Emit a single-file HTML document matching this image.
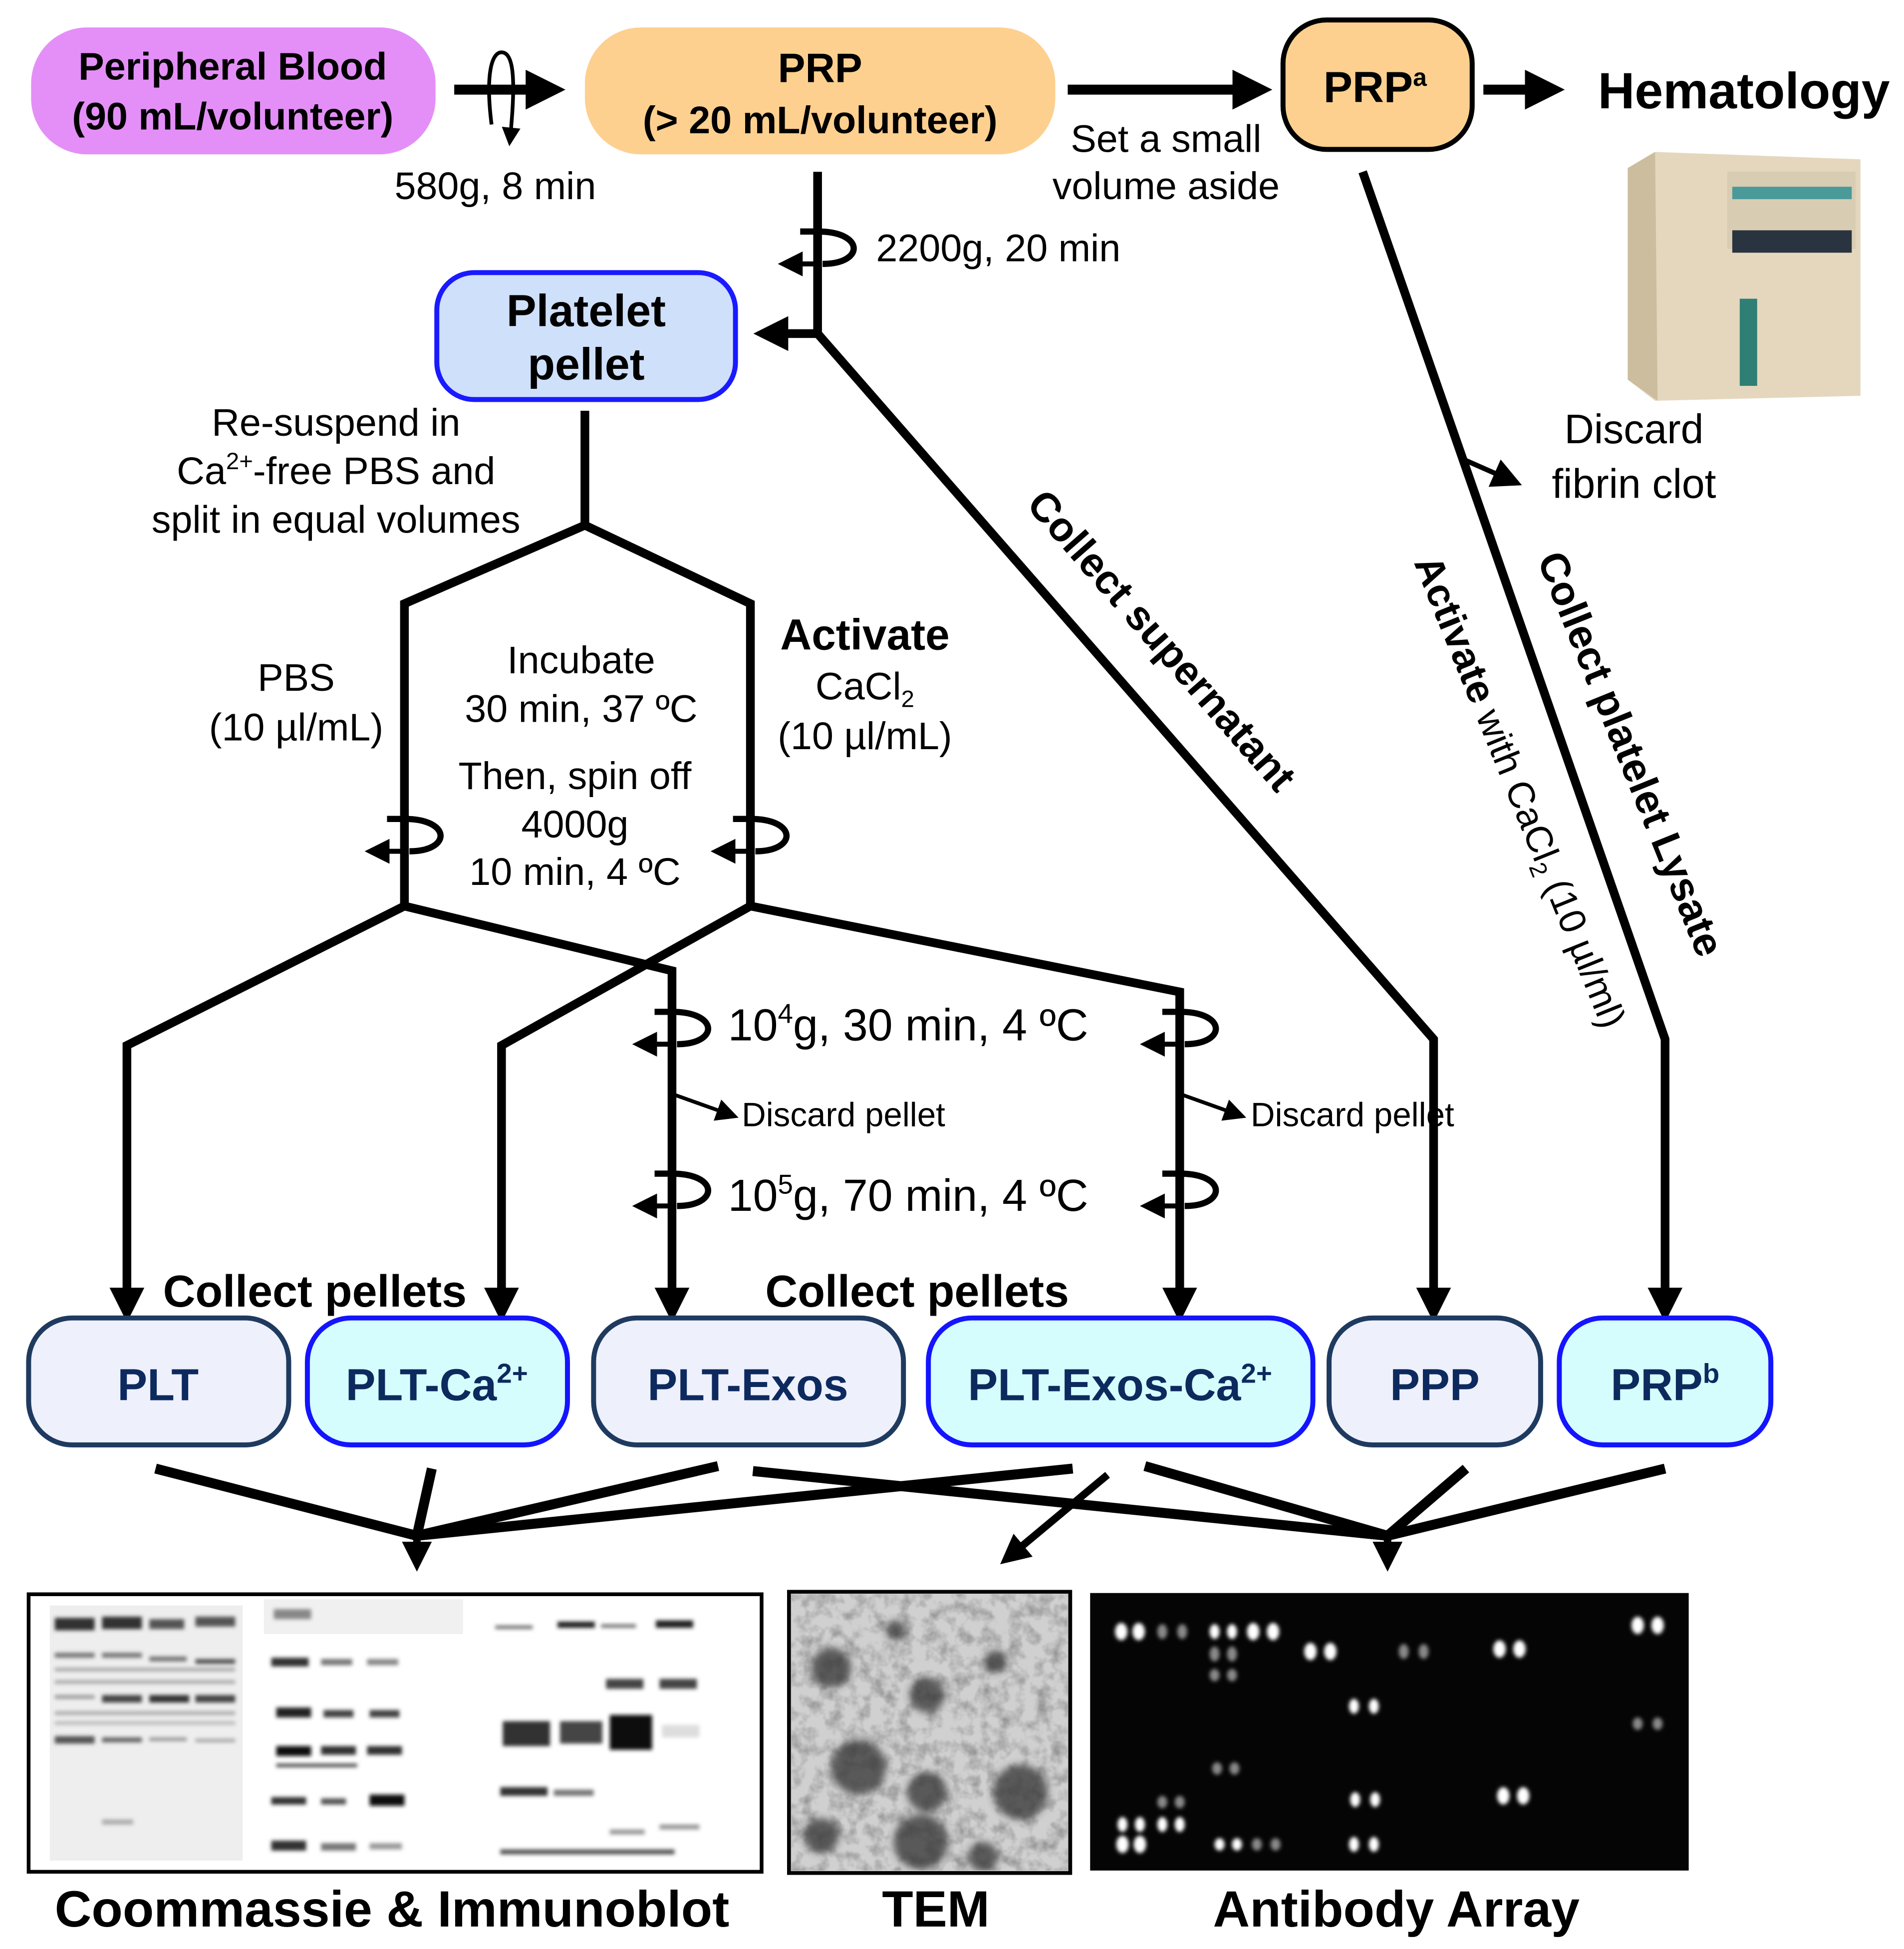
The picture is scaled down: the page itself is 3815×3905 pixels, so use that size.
<!DOCTYPE html>
<html><head><meta charset="utf-8"><style>html,body{margin:0;padding:0;background:#fff}svg{display:block}</style></head>
<body>
<svg width="3815" height="3905" viewBox="0 0 1530 1566" xmlns="http://www.w3.org/2000/svg" font-family="Liberation Sans, Arial, sans-serif">
<defs>
<marker id="ah" markerWidth="4" markerHeight="4" refX="2.2" refY="2" orient="auto" markerUnits="strokeWidth"><path d="M0,0 L4,2 L0,4 z" fill="#000"/></marker>
<marker id="ah2" markerWidth="6" markerHeight="6" refX="3" refY="3" orient="auto" markerUnits="strokeWidth"><path d="M0,0 L6,3 L0,6 z" fill="#000"/></marker>
<marker id="ahs" markerWidth="5" markerHeight="5" refX="2.5" refY="2.5" orient="auto" markerUnits="strokeWidth"><path d="M0,0 L5,2.5 L0,5 z" fill="#000"/></marker>
<filter id="bl"><feGaussianBlur stdDeviation="1.6"/></filter>
<filter id="bl2"><feGaussianBlur stdDeviation="3"/></filter>
<filter id="noise" x="0" y="0" width="100%" height="100%"><feTurbulence type="fractalNoise" baseFrequency="0.09" numOctaves="3" seed="3"/><feColorMatrix type="matrix" values="0 0 0 0 0.3  0 0 0 0 0.3  0 0 0 0 0.3  -2.2 0 0 0 1.3"/></filter>
<clipPath id="temclip"><rect x="636" y="1281" width="222" height="222"/></clipPath>
<g id="cf" fill="none" stroke="#000" stroke-width="5"><path d="M-14,-12 L0,-12 C38,-12 38,14 4,14"/><path d="M-2,14 L-22,14" marker-end="url(#ahs)" stroke-width="4"/></g>
</defs>

<rect x="25" y="22" width="325" height="102" rx="45" fill="#e48ff7"/>
<text x="187" y="64" font-size="31" font-weight="bold" text-anchor="middle">Peripheral Blood</text>
<text x="187" y="104" font-size="31" font-weight="bold" text-anchor="middle">(90 mL/volunteer)</text>

<line x1="365" y1="72" x2="440" y2="72" stroke="#000" stroke-width="8" marker-end="url(#ah)"/>
<path d="M395,100 C390,60 395,42 403,42 C412,42 415,60 410,110" fill="none" stroke="#000" stroke-width="3" marker-end="url(#ahs)"/>
<text x="398" y="160" font-size="31" text-anchor="middle">580g, 8 min</text>

<rect x="470" y="22" width="378" height="102" rx="45" fill="#fdd08f"/>
<text x="659" y="66" font-size="33" font-weight="bold" text-anchor="middle">PRP</text>
<text x="659" y="107" font-size="31" font-weight="bold" text-anchor="middle">(&gt; 20 mL/volunteer)</text>

<line x1="858" y1="72" x2="1008" y2="72" stroke="#000" stroke-width="8" marker-end="url(#ah)"/>
<text x="937" y="122" font-size="31" text-anchor="middle">Set a small</text>
<text x="937" y="160" font-size="31" text-anchor="middle">volume aside</text>

<rect x="1031" y="16" width="152" height="104" rx="35" fill="#fdd08f" stroke="#000" stroke-width="4"/>
<text x="1105" y="82" font-size="35" font-weight="bold" text-anchor="middle">PRP<tspan font-size="20" dy="-13">a</tspan></text>
<line x1="1192" y1="72" x2="1243" y2="72" stroke="#000" stroke-width="8" marker-end="url(#ah)"/>
<text x="1284" y="87" font-size="41" font-weight="bold">Hematology</text>

<g>
<polygon points="1308,135 1330,122 1495,128 1495,318 1330,322 1308,305" fill="#e4d7bd"/>
<polygon points="1308,135 1330,122 1332,322 1308,305" fill="#cbbd9e"/>
<rect x="1388" y="138" width="103" height="62" fill="#d8ccb2"/>
<rect x="1392" y="150" width="96" height="10" fill="#4a9a9a"/>
<rect x="1392" y="185" width="96" height="18" fill="#2a3440"/>
<rect x="1398" y="240" width="14" height="70" fill="#2f7f76"/>
</g>
<text x="1313" y="356" font-size="33" text-anchor="middle">Discard</text>
<text x="1313" y="400" font-size="33" text-anchor="middle">fibrin clot</text>

<polyline points="1095,138 1338,835 1338,1050" fill="none" stroke="#000" stroke-width="7" marker-end="url(#ah)"/>
<line x1="1178" y1="370" x2="1212" y2="385" stroke="#000" stroke-width="4" marker-end="url(#ah2)"/>
<text transform="translate(1300,610) rotate(68)" font-size="33" font-weight="bold" text-anchor="middle">Collect platelet Lysate</text>
<text transform="translate(1212,640) rotate(68)" font-size="30" text-anchor="middle"><tspan font-weight="bold" font-size="32">Activate</tspan> with CaCl<tspan font-size="19" dy="6">2</tspan><tspan dy="-6"> (10 µl/ml)</tspan></text>

<line x1="657" y1="138" x2="657" y2="270" stroke="#000" stroke-width="7"/>
<line x1="657" y1="268" x2="618" y2="268" stroke="#000" stroke-width="7" marker-end="url(#ah)"/>
<use href="#cf" x="657" y="198"/>
<text x="704" y="210" font-size="31">2200g, 20 min</text>
<polyline points="657,268 1152,835 1152,1050" fill="none" stroke="#000" stroke-width="7" marker-end="url(#ah)"/>
<text transform="translate(925,522) rotate(48.9)" font-size="33" font-weight="bold" text-anchor="middle">Collect supernatant</text>

<rect x="351" y="219" width="240" height="102" rx="30" fill="#cfe0fa" stroke="#1a1aff" stroke-width="4"/>
<text x="471" y="262" font-size="36" font-weight="bold" text-anchor="middle">Platelet</text>
<text x="471" y="305" font-size="36" font-weight="bold" text-anchor="middle">pellet</text>
<text x="270" y="350" font-size="31" text-anchor="middle">Re-suspend in</text>
<text x="270" y="389" font-size="31" text-anchor="middle">Ca<tspan font-size="19" dy="-12">2+</tspan><tspan dy="12">-free PBS and</tspan></text>
<text x="270" y="428" font-size="31" text-anchor="middle">split in equal volumes</text>

<polyline points="470,330 470,422" fill="none" stroke="#000" stroke-width="7"/>
<polyline points="325,730 325,485 470,422 603,485 603,730" fill="none" stroke="#000" stroke-width="7" stroke-linejoin="miter"/>
<use href="#cf" x="325" y="670"/>
<use href="#cf" x="603" y="670"/>
<text x="238" y="555" font-size="31" text-anchor="middle">PBS</text>
<text x="238" y="595" font-size="31" text-anchor="middle">(10 µl/mL)</text>
<text x="467" y="541" font-size="31" text-anchor="middle">Incubate</text>
<text x="467" y="580" font-size="31" text-anchor="middle">30 min, 37 ºC</text>
<text x="462" y="634" font-size="31" text-anchor="middle">Then, spin off</text>
<text x="462" y="673" font-size="31" text-anchor="middle">4000g</text>
<text x="462" y="711" font-size="31" text-anchor="middle">10 min, 4 ºC</text>
<text x="695" y="522" font-size="35" font-weight="bold" text-anchor="middle">Activate</text>
<text x="695" y="562" font-size="31" text-anchor="middle">CaCl<tspan font-size="19" dy="6">2</tspan></text>
<text x="695" y="602" font-size="31" text-anchor="middle">(10 µl/mL)</text>

<polyline points="325,728 102,840 102,1050" fill="none" stroke="#000" stroke-width="7" marker-end="url(#ah)"/>
<polyline points="603,728 403,840 403,1050" fill="none" stroke="#000" stroke-width="7" marker-end="url(#ah)"/>
<polyline points="325,728 540,780 540,1050" fill="none" stroke="#000" stroke-width="7" marker-end="url(#ah)"/>
<polyline points="603,728 948,797 948,1050" fill="none" stroke="#000" stroke-width="7" marker-end="url(#ah)"/>
<use href="#cf" x="540" y="825"/>
<use href="#cf" x="540" y="955"/>
<use href="#cf" x="948" y="825"/>
<use href="#cf" x="948" y="955"/>
<text x="585" y="836" font-size="36">10<tspan font-size="22" dy="-14">4</tspan><tspan dy="14">g, 30 min, 4 ºC</tspan></text>
<text x="585" y="973" font-size="36">10<tspan font-size="22" dy="-14">5</tspan><tspan dy="14">g, 70 min, 4 ºC</tspan></text>
<line x1="543" y1="880" x2="585" y2="895" stroke="#000" stroke-width="3" marker-end="url(#ah2)"/>
<text x="596" y="905" font-size="27">Discard pellet</text>
<line x1="951" y1="880" x2="993" y2="895" stroke="#000" stroke-width="3" marker-end="url(#ah2)"/>
<text x="1005" y="905" font-size="27">Discard pellet</text>

<text x="253" y="1050" font-size="36" font-weight="bold" text-anchor="middle">Collect pellets</text>
<text x="737" y="1050" font-size="36" font-weight="bold" text-anchor="middle">Collect pellets</text>

<g stroke-width="4">
<rect x="23" y="1059" width="209" height="102" rx="35" fill="#eef0fc" stroke="#1f3a5f"/>
<rect x="247" y="1059" width="209" height="102" rx="35" fill="#d6fdfd" stroke="#1414ff"/>
<rect x="477" y="1059" width="249" height="102" rx="35" fill="#eef0fc" stroke="#1f3a5f"/>
<rect x="746" y="1059" width="309" height="102" rx="35" fill="#d6fdfd" stroke="#1414ff"/>
<rect x="1068" y="1059" width="170" height="102" rx="35" fill="#eef0fc" stroke="#1f3a5f"/>
<rect x="1253" y="1059" width="170" height="102" rx="35" fill="#d6fdfd" stroke="#1414ff"/>
</g>
<g font-size="36" font-weight="bold" text-anchor="middle" fill="#0d2a5e">
<text x="127" y="1125">PLT</text>
<text x="351" y="1125">PLT-Ca<tspan font-size="22" dy="-14">2+</tspan></text>
<text x="601" y="1125">PLT-Exos</text>
<text x="900" y="1125">PLT-Exos-Ca<tspan font-size="22" dy="-14">2+</tspan></text>
<text x="1153" y="1125">PPP</text>
<text x="1338" y="1125">PRP<tspan font-size="22" dy="-14">b</tspan></text>
</g>

<g stroke="#000" stroke-width="8" fill="none">
<line x1="125" y1="1180" x2="335" y2="1234"/>
<line x1="347" y1="1180" x2="335" y2="1234"/>
<line x1="577" y1="1178" x2="335" y2="1234"/>
<line x1="862" y1="1180" x2="335" y2="1234"/>
<line x1="335" y1="1232" x2="335" y2="1252" marker-end="url(#ah)" stroke-width="6"/>
<line x1="605" y1="1182" x2="1115" y2="1234"/>
<line x1="920" y1="1178" x2="1115" y2="1234"/>
<line x1="1178" y1="1180" x2="1115" y2="1234"/>
<line x1="1338" y1="1180" x2="1115" y2="1234"/>
<line x1="1115" y1="1232" x2="1115" y2="1252" marker-end="url(#ah)" stroke-width="6"/>
<line x1="890" y1="1185" x2="812" y2="1250" marker-end="url(#ah)" stroke-width="6"/>
</g>

<rect x="23" y="1281" width="589" height="223" fill="#fff" stroke="#000" stroke-width="3"/>
<rect x="40" y="1290" width="155" height="205" fill="#eeeeee"/>
<rect x="212" y="1285" width="160" height="28" fill="#f0f0f0"/>
<g filter="url(#bl)" fill="#444">
<rect x="44" y="1300" width="32" height="10" fill="#333"/><rect x="82" y="1299" width="32" height="10" fill="#333"/><rect x="120" y="1301" width="28" height="8" fill="#555"/><rect x="157" y="1299" width="32" height="8" fill="#555"/>
<rect x="44" y="1328" width="32" height="4" fill="#777"/><rect x="82" y="1328" width="32" height="4" fill="#777"/><rect x="120" y="1331" width="30" height="4" fill="#777"/><rect x="157" y="1333" width="32" height="4" fill="#555"/>
<rect x="44" y="1340" width="145" height="3" fill="#aaa"/><rect x="44" y="1350" width="145" height="3" fill="#aaa"/>
<rect x="82" y="1362" width="32" height="6" fill="#444"/><rect x="120" y="1362" width="32" height="6" fill="#333"/><rect x="157" y="1362" width="32" height="6" fill="#444"/><rect x="44" y="1362" width="32" height="3" fill="#999"/>
<rect x="44" y="1375" width="145" height="3" fill="#aaa"/><rect x="44" y="1383" width="145" height="3" fill="#bbb"/>
<rect x="44" y="1395" width="32" height="6" fill="#555"/><rect x="82" y="1396" width="32" height="4" fill="#666"/><rect x="120" y="1396" width="30" height="3" fill="#999"/><rect x="157" y="1397" width="32" height="3" fill="#aaa"/>
<rect x="82" y="1462" width="25" height="4" fill="#aaa"/>
<rect x="220" y="1293" width="30" height="8" fill="#888"/>
<rect x="218" y="1332" width="30" height="7" fill="#333"/><rect x="258" y="1333" width="25" height="5" fill="#777"/><rect x="295" y="1333" width="25" height="5" fill="#888"/>
<rect x="222" y="1372" width="28" height="8" fill="#222"/><rect x="260" y="1374" width="24" height="6" fill="#444"/><rect x="297" y="1374" width="24" height="6" fill="#444"/>
<rect x="222" y="1403" width="28" height="8" fill="#111"/><rect x="258" y="1403" width="28" height="7" fill="#333"/><rect x="295" y="1403" width="28" height="7" fill="#333"/><rect x="222" y="1417" width="65" height="3" fill="#555"/>
<rect x="218" y="1444" width="28" height="6" fill="#333"/><rect x="258" y="1445" width="20" height="5" fill="#555"/><rect x="297" y="1442" width="28" height="9" fill="#111"/>
<rect x="218" y="1479" width="28" height="8" fill="#333"/><rect x="258" y="1481" width="28" height="6" fill="#777"/><rect x="297" y="1481" width="26" height="5" fill="#999"/>
<rect x="398" y="1306" width="30" height="3" fill="#777"/><rect x="448" y="1303" width="30" height="5" fill="#222"/><rect x="483" y="1305" width="28" height="3" fill="#777"/><rect x="527" y="1302" width="30" height="6" fill="#222"/>
<rect x="487" y="1349" width="30" height="8" fill="#444"/><rect x="530" y="1349" width="30" height="8" fill="#444"/>
<rect x="404" y="1383" width="38" height="20" fill="#333"/><rect x="450" y="1383" width="34" height="18" fill="#444"/><rect x="490" y="1378" width="34" height="28" fill="#111"/><rect x="532" y="1386" width="30" height="10" fill="#ddd"/>
<rect x="402" y="1436" width="38" height="7" fill="#333"/><rect x="445" y="1438" width="32" height="5" fill="#777"/>
<rect x="402" y="1486" width="140" height="4" fill="#555"/><rect x="490" y="1470" width="28" height="4" fill="#999"/><rect x="530" y="1466" width="32" height="4" fill="#999"/>
</g>

<rect x="634" y="1279" width="226" height="226" fill="#d0d0d0" stroke="#000" stroke-width="3"/>
<rect x="636" y="1281" width="222" height="222" filter="url(#noise)"/>
<g clip-path="url(#temclip)">
<g fill="#333" filter="url(#bl2)" opacity="0.75">
<circle cx="668" cy="1340" r="16"/><circle cx="720" cy="1310" r="8"/><circle cx="745" cy="1362" r="14"/><circle cx="800" cy="1335" r="9"/><circle cx="690" cy="1420" r="22"/><circle cx="745" cy="1440" r="16"/><circle cx="740" cy="1480" r="22"/><circle cx="820" cy="1440" r="22"/><circle cx="790" cy="1492" r="12"/><circle cx="660" cy="1475" r="14"/>
</g>
</g>
<rect x="634" y="1279" width="226" height="226" fill="none" stroke="#000" stroke-width="3"/>

<rect x="876" y="1280" width="481" height="223" fill="#050505"/>
<g filter="url(#bl)">
<g fill="#fff">
<ellipse cx="901" cy="1311" rx="5" ry="7"/><ellipse cx="915" cy="1311" rx="5" ry="7"/>
<ellipse cx="976" cy="1311" rx="4" ry="6"/><ellipse cx="990" cy="1311" rx="4" ry="6"/><ellipse cx="1007" cy="1311" rx="5" ry="7"/><ellipse cx="1023" cy="1311" rx="5" ry="7"/>
<ellipse cx="1053" cy="1327" rx="5" ry="7"/><ellipse cx="1069" cy="1327" rx="5" ry="7"/>
<ellipse cx="1205" cy="1325" rx="5" ry="7"/><ellipse cx="1221" cy="1325" rx="5" ry="7"/>
<ellipse cx="1316" cy="1306" rx="5" ry="7"/><ellipse cx="1332" cy="1306" rx="5" ry="7"/>
<ellipse cx="1088" cy="1371" rx="4" ry="6"/><ellipse cx="1104" cy="1371" rx="4" ry="6"/>
<ellipse cx="1089" cy="1446" rx="4" ry="6"/><ellipse cx="1105" cy="1446" rx="4" ry="6"/>
<ellipse cx="1208" cy="1443" rx="5" ry="7"/><ellipse cx="1224" cy="1443" rx="5" ry="7"/>
<ellipse cx="902" cy="1466" rx="4" ry="6"/><ellipse cx="916" cy="1466" rx="4" ry="6"/><ellipse cx="934" cy="1466" rx="4" ry="6"/><ellipse cx="948" cy="1466" rx="4" ry="6"/>
<ellipse cx="902" cy="1482" rx="5" ry="7"/><ellipse cx="916" cy="1482" rx="5" ry="7"/>
<ellipse cx="980" cy="1482" rx="4" ry="5"/><ellipse cx="994" cy="1482" rx="4" ry="5"/><ellipse cx="1088" cy="1482" rx="4" ry="6"/><ellipse cx="1104" cy="1482" rx="4" ry="6"/>
</g>
<g fill="#888">
<ellipse cx="934" cy="1311" rx="4" ry="6"/><ellipse cx="950" cy="1311" rx="4" ry="6"/>
<ellipse cx="976" cy="1329" rx="4" ry="6"/><ellipse cx="990" cy="1329" rx="4" ry="6"/>
<ellipse cx="1128" cy="1327" rx="4" ry="6"/><ellipse cx="1144" cy="1327" rx="4" ry="6"/>
<ellipse cx="976" cy="1346" rx="4" ry="5"/><ellipse cx="990" cy="1346" rx="4" ry="5"/>
<ellipse cx="1316" cy="1385" rx="4" ry="5"/><ellipse cx="1332" cy="1385" rx="4" ry="5"/>
<ellipse cx="978" cy="1421" rx="4" ry="5"/><ellipse cx="992" cy="1421" rx="4" ry="5"/>
<ellipse cx="934" cy="1448" rx="4" ry="5"/><ellipse cx="948" cy="1448" rx="4" ry="5"/>
<ellipse cx="1010" cy="1482" rx="4" ry="5"/><ellipse cx="1025" cy="1482" rx="4" ry="5"/>
</g>
</g>

<g font-size="41" font-weight="bold" text-anchor="middle">
<text x="315" y="1548">Coommassie &amp; Immunoblot</text>
<text x="752" y="1548">TEM</text>
<text x="1122" y="1548">Antibody Array</text>
</g>
</svg>
</body></html>
